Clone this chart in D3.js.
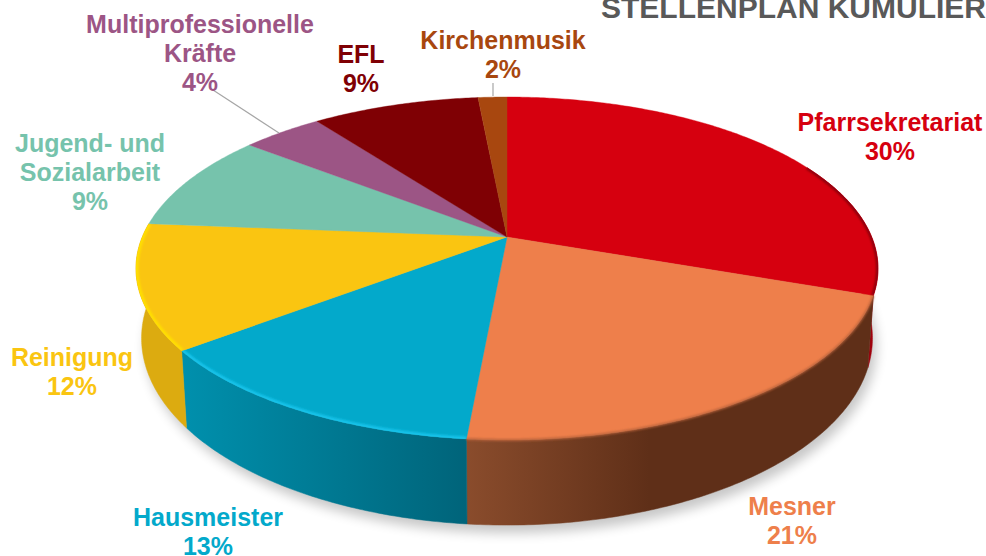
<!DOCTYPE html>
<html><head><meta charset="utf-8">
<script src="https://cdnjs.cloudflare.com/ajax/libs/d3/7.8.5/d3.min.js"></script>
<style>html,body{margin:0;padding:0;background:#fff;overflow:hidden}svg{display:block}
text{font-family:"Liberation Sans",Arial,sans-serif;font-weight:700}</style></head><body>
<svg id="c" width="986" height="556"></svg>
<script>
const titleText = "STELLENPLAN KUMULIER";
const categories = ["Pfarrsekretariat","Mesner","Hausmeister","Reinigung","Jugend- und Sozialarbeit","Multiprofessionelle Kräfte","EFL","Kirchenmusik"];
const values = [30.4, 21.05, 13.1, 11.75, 9.3, 4.2, 8.7, 1.5];
const colors = ["#d6000f","#ee7f4b","#03a9cb","#fac511","#76c3ac","#9c5585","#7f0004","#a8470f"];
const wallLight = ["#a0000c","#8a4c2c","#0090ad","#dcab10",null,null,null,null];
const wallDark  = ["#8a000a","#5f2f18","#00647a","#dcab10",null,null,null,null];
const wallStop = [1,0.45,1,1];
const rimColors = ["#8a000a","#b8623a","#19c3ea","#ffdf00",null,null,null,null];
const rimWidths = [4,2,5,5];
const rimClipped = [true,false,true,true];
const labelLines = [["Pfarrsekretariat"],["Mesner"],["Hausmeister"],["Reinigung"],["Jugend- und","Sozialarbeit"],["Multiprofessionelle","Kräfte"],["EFL"],["Kirchenmusik"]];
const labelX = [890,792,208,72,90,200,361,503];
const labelBase = [131,515,526,366,152,33,63,49];

const svg = d3.select("#c");
const k = 0.1837;
const sx = d3.scaleLinear().domain([-1,1]).range([507-364.7,507+364.7]);
const sy = d3.scaleLinear().domain([-1,1]).range([237+165.7,237-165.7]);
// bottom ring: the top face pulled slightly inward and pushed down
const bx = d3.scaleLinear().domain([0,986]).range([507-507*0.985,507+479*0.985]);
const by = d3.scaleLinear().domain([0,556]).range([45.5,45.5+556*1.09]);
function topPt(t){const u=Math.sin(t),v=Math.cos(t),w=1+k*v;return [sx(u/w),sy(v/w)];}
function botPt(t){const p=topPt(t);return [bx(p[0]),by(p[1])];}
const lineGen = d3.line();
function samples(a,b){const n=Math.max(2,Math.ceil((b-a)/0.01));return d3.range(n+1).map(i=>a+(b-a)*i/n);}

const arcs = d3.pie().sort(null).value(d=>d)(values);
const defs = svg.append("defs");
defs.append("filter").attr("id","sh").attr("x","-20%").attr("y","-20%").attr("width","140%").attr("height","140%")
  .append("feGaussianBlur").attr("stdDeviation",6);
defs.append("filter").attr("id","rb").attr("x","-20%").attr("y","-20%").attr("width","140%").attr("height","140%")
  .append("feGaussianBlur").attr("stdDeviation",1.1);

// soft shadow
const fullTurn = samples(0,2*Math.PI);
svg.append("path").attr("d",lineGen(fullTurn.map(botPt))+"Z").attr("transform","translate(4,8)")
  .attr("fill","#000").attr("opacity",0.22).attr("filter","url(#sh)");

// walls
const wallFrom = 1.1, wallTo = 4.9;
arcs.forEach((a,i)=>{
  if(!wallLight[i]) return;
  const s=Math.max(a.startAngle,wallFrom), e=Math.min(a.endAngle,wallTo);
  const ts=samples(s,e);
  const g=defs.append("linearGradient").attr("id","w"+i).attr("gradientUnits","userSpaceOnUse")
    .attr("x1",topPt(e)[0]).attr("x2",topPt(s)[0]).attr("y1",0).attr("y2",0);
  g.append("stop").attr("offset",0).attr("stop-color",wallLight[i]);
  g.append("stop").attr("offset",wallStop[i]).attr("stop-color",wallDark[i]);
  svg.append("path").attr("d",lineGen(ts.map(topPt).concat(ts.slice().reverse().map(botPt)))+"Z")
    .attr("fill","url(#w"+i+")").attr("stroke","url(#w"+i+")").attr("stroke-width",0.5);
});

// top faces
const cx=sx(0), cy=sy(0);
arcs.forEach((a,i)=>{
  const d=lineGen([[cx,cy]].concat(samples(a.startAngle,a.endAngle).map(topPt)))+"Z";
  defs.append("clipPath").attr("id","f"+i).append("path").attr("d",d);
  svg.append("path").attr("d",d).attr("fill",colors[i]).attr("stroke",colors[i]).attr("stroke-width",0.4);
});
// bevel along the visible rim
arcs.forEach((a,i)=>{
  if(!rimColors[i]) return;
  const s=Math.max(a.startAngle,wallFrom), e=Math.min(a.endAngle,wallTo);
  const g=svg.append("g");
  if(rimClipped[i]) g.attr("clip-path","url(#f"+i+")");
  g.append("path")
    .attr("d",lineGen(samples(s,e).map(topPt))).attr("fill","none")
    .attr("stroke",rimColors[i]).attr("stroke-width",rimWidths[i]).attr("filter","url(#rb)");
});

// leader lines
const leaders=[[5,213,90,279,133],[7,493,83,493,96]];
leaders.forEach(l=>svg.append("line").attr("x1",l[1]).attr("y1",l[2]).attr("x2",l[3]).attr("y2",l[4])
  .attr("stroke","#a6a6a6").attr("stroke-width",1.2));

// labels
const fs=25, lh=29;
categories.forEach((c,i)=>{
  const t=svg.append("text").attr("text-anchor","middle").attr("font-size",fs).attr("fill",colors[i]);
  const lines=labelLines[i].concat([d3.format(".0f")(values[i])+"%"]);
  lines.forEach((s,j)=>t.append("tspan").attr("x",labelX[i]).attr("y",labelBase[i]+j*lh).text(s));
});
svg.append("text").attr("x",986).attr("y",18).attr("text-anchor","end").attr("font-size",30).attr("fill","#595959").text(titleText);
</script></body></html>
